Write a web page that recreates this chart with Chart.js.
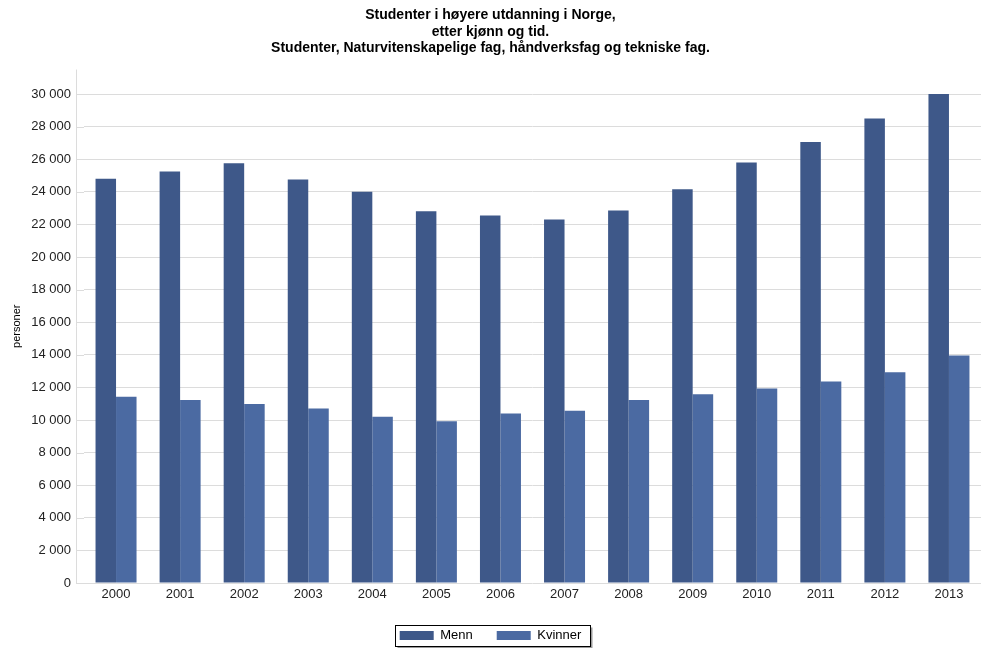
<!DOCTYPE html>
<html>
<head>
<meta charset="utf-8">
<script src="https://cdn.jsdelivr.net/npm/chart.js@4/dist/chart.umd.min.js"></script>
<style>
html,body{margin:0;padding:0;background:#fff;}
#wrap{width:987px;height:648px;}
</style>
</head>
<body>
<div id="wrap"><canvas id="c" width="987" height="648"></canvas></div>
<script>
const categories = ['2000','2001','2002','2003','2004','2005','2006','2007','2008','2009','2010','2011','2012','2013'];
const menn = [24800, 25250, 25750, 24750, 24000, 22800, 22550, 22300, 22850, 24150, 25800, 27050, 28500, 30000];
const kvinner = [11430, 11220, 10980, 10710, 10200, 9920, 10400, 10570, 11220, 11580, 11940, 12360, 12930, 13960];
const yTicks = [0,2000,4000,6000,8000,10000,12000,14000,16000,18000,20000,22000,24000,26000,28000,30000];
const titleLines = ['Studenter i høyere utdanning i Norge,', 'etter kjønn og tid.', 'Studenter, Naturvitenskapelige fag, håndverksfag og tekniske fag.'];
const seriesNames = ['Menn', 'Kvinner'];
const yTitle = 'personer';

const FONT = "'Liberation Sans', Arial, sans-serif";
function fmt(v){ return String(v).replace(/\B(?=(\d{3})+(?!\d))/g, ' '); }

const decor = {
  id: 'decor',
  beforeDatasetsDraw(chart){
    const ctx = chart.ctx, a = chart.chartArea, y = chart.scales.y;
    ctx.save();
    ctx.strokeStyle = '#dcdcdc';
    ctx.lineWidth = 1;
    const x0 = a.left - 8;
    yTicks.forEach(t => {
      const py = Math.round(y.getPixelForValue(t)) + 0.5;
      ctx.beginPath(); ctx.moveTo(x0, py); ctx.lineTo(a.left, py); ctx.stroke();
    });
    ctx.beginPath(); ctx.moveTo(x0 + 0.5, a.top); ctx.lineTo(x0 + 0.5, a.bottom); ctx.stroke();
    ctx.restore();
  },
  afterDraw(chart){
    const hb = chart.legend && chart.legend.legendHitBoxes;
    if (!hb || !hb.length) return;
    const ctx = chart.ctx;
    const last = hb[hb.length-1];
    const l = Math.round(hb[0].left - 5) + 0.5;
    const r = Math.round(last.left + last.width + 9) + 0.5;
    const t = Math.round(hb[0].top - 4) + 0.5;
    const b = Math.round(hb[0].top + hb[0].height + 4) + 0.5;
    ctx.save();
    ctx.strokeStyle = '#9a9a9a';
    ctx.lineWidth = 2;
    ctx.beginPath(); ctx.moveTo(l + 2, b + 1); ctx.lineTo(r + 1, b + 1); ctx.lineTo(r + 1, t + 2); ctx.stroke();
    ctx.strokeStyle = '#000';
    ctx.lineWidth = 1;
    ctx.strokeRect(l, t, r - l, b - t);
    ctx.restore();
  }
};

new Chart(document.getElementById('c'), {
  type: 'bar',
  data: {
    labels: categories,
    datasets: [
      { label: seriesNames[0], data: menn, backgroundColor: '#3e5889', borderWidth: 0 },
      { label: seriesNames[1], data: kvinner, backgroundColor: '#4b6aa2', borderWidth: 0 }
    ]
  },
  options: {
    responsive: false,
    animation: false,
    devicePixelRatio: 1,
    layout: { padding: { left: 0, right: 6, top: 0, bottom: -4 } },
    datasets: { bar: { categoryPercentage: 0.64, barPercentage: 1.0 } },
    plugins: {
      title: {
        display: true,
        text: titleLines,
        color: '#000',
        font: { family: FONT, size: 14, weight: 'bold', lineHeight: 1.18 },
        padding: { top: 7, bottom: 13 }
      },
      legend: {
        position: 'bottom',
        align: 'center',
        labels: {
          boxWidth: 34,
          boxHeight: 9,
          padding: 24,
          color: '#000',
          font: { family: FONT, size: 13 }
        }
      },
      tooltip: { enabled: false }
    },
    scales: {
      x: {
        grid: { display: false, drawTicks: false },
        border: { display: false },
        ticks: { color: '#222', font: { family: FONT, size: 13 }, padding: 4, maxRotation: 0 },
        afterFit(s){ s.height = 22; }
      },
      y: {
        min: 0,
        max: 31500,
        afterBuildTicks(s){ s.ticks = yTicks.map(v => ({ value: v })); },
        grid: { color: '#dcdcdc', drawTicks: false },
        border: { display: false },
        ticks: { color: '#222', font: { family: FONT, size: 13 }, padding: 13, callback: v => fmt(v) },
        title: { display: true, text: yTitle, color: '#000', font: { family: FONT, size: 11 }, padding: { top: 10, bottom: 0 } },
        afterFit(s){ s.width = 84; }
      }
    }
  },
  plugins: [decor]
});
</script>
</body>
</html>
